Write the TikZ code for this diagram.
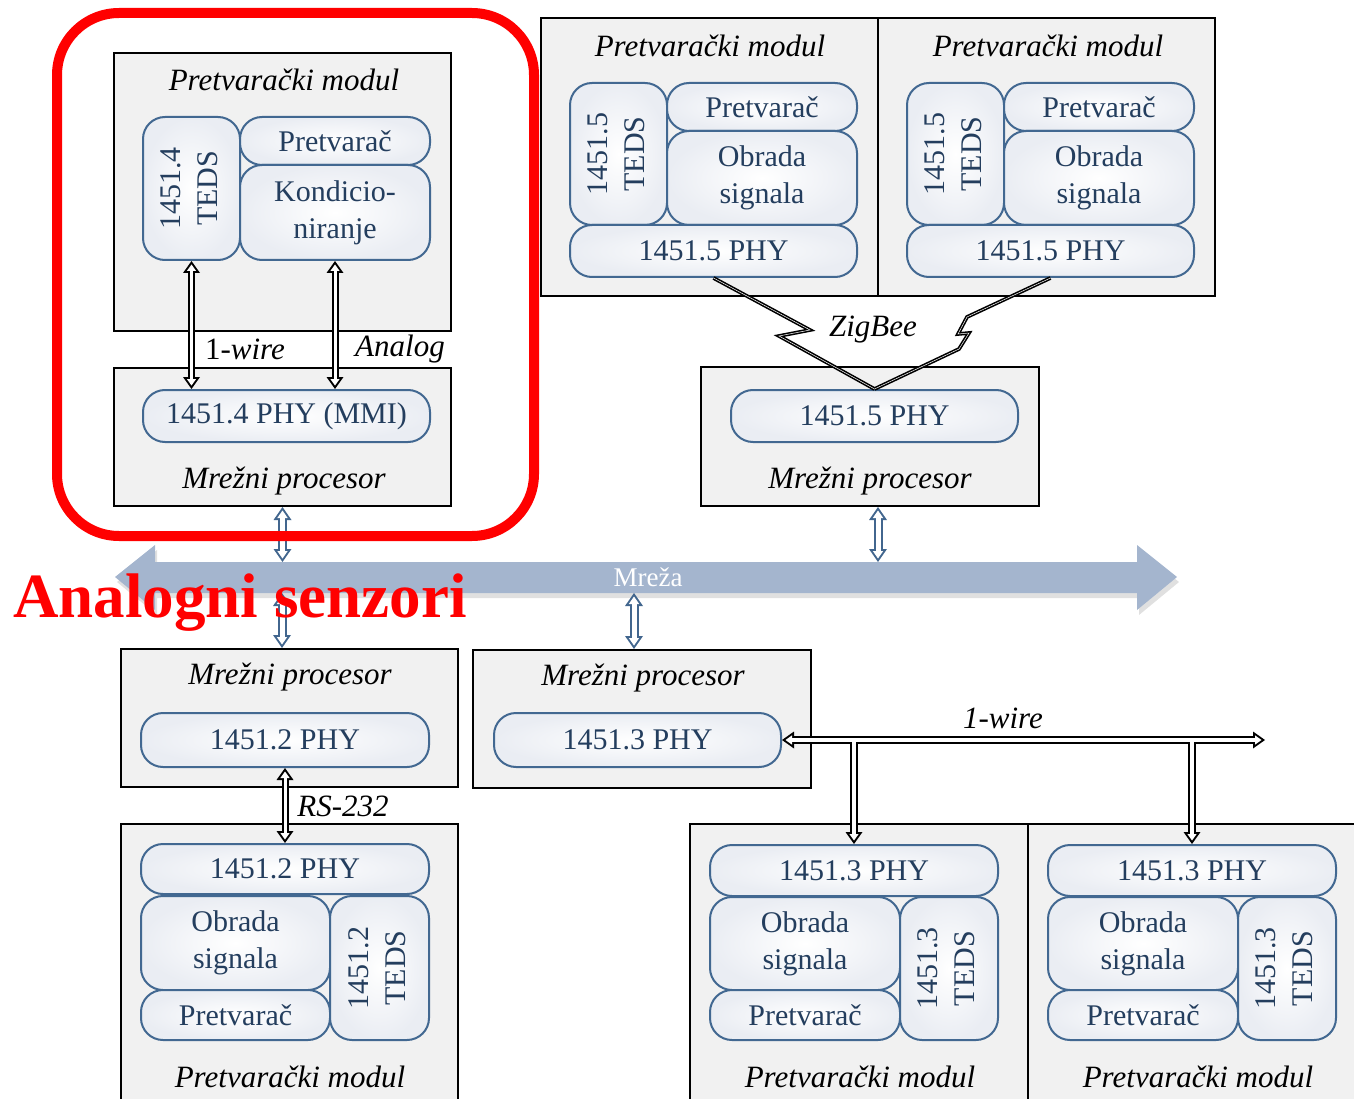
\documentclass[tikz,border=0pt]{standalone}
\usepackage{fontspec}
\setmainfont{Liberation Serif}
\usetikzlibrary{positioning,arrows.meta}

\definecolor{partblue}{RGB}{66,104,145}
\definecolor{parttext}{RGB}{36,62,94}
\definecolor{partshade}{RGB}{234,237,243}
\definecolor{modgray}{RGB}{241,241,241}
\definecolor{netfill}{RGB}{164,181,206}
\definecolor{linkblue}{RGB}{66,102,142}

\newcommand{\partfont}{\fontsize{30}{37}\selectfont}
\newcommand{\modtitlefont}{\fontsize{31}{36}\selectfont\itshape}
\newcommand{\tedslabel}[1]{\rotatebox{90}{\begin{tabular}{@{}c@{}}#1\\TEDS\end{tabular}}}

\tikzset{
  module/.style={draw, line width=2pt, fill=modgray, inner sep=0pt},
  part/.style={draw=partblue, line width=2pt, rounded corners=22pt, inner color=white,
    outer color=partshade, text=parttext, align=center, inner sep=0pt, font=\partfont},
  modtitle/.style={font=\modtitlefont},
  bigtip/.tip={Triangle[length=12pt,width=17pt,line width=0pt]},
  smalltip/.tip={Triangle[length=6.5pt,width=9.3pt,line width=0pt]},
  bluetip/.tip={Triangle[length=13pt,width=18pt,line width=0pt]},
  bluesmall/.tip={Triangle[length=7.5pt,width=10.4pt,line width=0pt]},
  hollow/.style={line width=7pt, bigtip-bigtip,
    postaction={draw=white, line width=3pt, shorten <=3.5pt, shorten >=3.5pt, smalltip-smalltip}},
  netlink/.style={draw=linkblue, line width=9pt, bluetip-bluetip,
    postaction={draw=white, line width=5pt, shorten <=3.5pt, shorten >=3.5pt, bluesmall-bluesmall}},
  busout/.style={line width=8pt},
  busin/.style={draw=white, line width=4pt},
  zig/.style={line width=1.6pt, double=white, double distance=0.5pt},
}

\begin{document}
\begin{tikzpicture}[x=1pt,y=-1pt,line join=miter]
\useasboundingbox (0,0) rectangle (1354,1099);
%% modules
\node (pmL) at (282.5,192) [module, minimum width=337pt, minimum height=278pt] {};
\node (mpL) at (282.5,437) [module, minimum width=337pt, minimum height=138pt] {};
\node (pmB) at (709.5,157) [module, minimum width=337pt, minimum height=278pt] {};
\node (pmC) at (1046.5,157) [module, minimum width=337pt, minimum height=278pt] {};
\node (mpB) at (870,436.5) [module, minimum width=338pt, minimum height=139pt] {};
\node (mpD) at (289.5,718) [module, minimum width=337pt, minimum height=138pt] {};
\node (pmD) at (289.5,967) [module, minimum width=337pt, minimum height=286pt] {};
\node (mpE) at (642,719) [module, minimum width=338pt, minimum height=138pt] {};
\node (pmF) at (859,967) [module, minimum width=338pt, minimum height=286pt] {};
\node (pmG) at (1197,967) [module, minimum width=338pt, minimum height=286pt] {};
%
\node (pmLt) at (284,80) [modtitle] {Pretvarački modul};
\node (mpLt) at (284,481) [modtitle] {Mrežni procesor};
\node (pmBt) at (710,46) [modtitle] {Pretvarački modul};
\node (pmCt) at (1048,46) [modtitle] {Pretvarački modul};
\node (mpBt) at (870,481) [modtitle] {Mrežni procesor};
\node (mpDt) at (290,677) [modtitle] {Mrežni procesor};
\node (pmDt) at (290,1077) [modtitle] {Pretvarački modul};
\node (mpEt) at (643,678) [modtitle] {Mrežni procesor};
\node (pmFt) at (860,1077) [modtitle] {Pretvarački modul};
\node (pmGt) at (1198,1077) [modtitle] {Pretvarački modul};
%% parts, top left
\node (tedsL) at (191.5,188.5) [part, minimum width=97pt, minimum height=143pt] {\tedslabel{1451.4}};
\node (convL) at (335,141) [part, minimum width=190pt, minimum height=48pt] {Pretvarač};
\node (condL) at (335,212.5) [part, minimum width=190pt, minimum height=95pt] {Kondicio-\\niranje};
\node (phyL) at (286.5,416) [part, minimum width=287pt, minimum height=52pt] {1451.4 PHY (MMI)};
%% parts, top
\node (tedsB) at (618.5,154) [part, minimum width=97pt, minimum height=142pt] {\tedslabel{1451.5}};
\node (convB) at (762,107) [part, minimum width=190pt, minimum height=48pt] {Pretvarač};
\node (sigB) at (762,178) [part, minimum width=190pt, minimum height=94pt] {Obrada\\signala};
\node (phyB) at (713.5,251) [part, minimum width=287pt, minimum height=52pt] {1451.5 PHY};
\node (tedsC) at (955.5,154) [part, minimum width=97pt, minimum height=142pt] {\tedslabel{1451.5}};
\node (convC) at (1099,107) [part, minimum width=190pt, minimum height=48pt] {Pretvarač};
\node (sigC) at (1099,178) [part, minimum width=190pt, minimum height=94pt] {Obrada\\signala};
\node (phyC) at (1050.5,251) [part, minimum width=287pt, minimum height=52pt] {1451.5 PHY};
\node (phyM) at (874.5,416) [part, minimum width=287pt, minimum height=52pt] {1451.5 PHY};
%% parts, bottom
\node (phyD) at (285,740) [part, minimum width=288pt, minimum height=54pt] {1451.2 PHY};
\node (phyD2) at (285,869) [part, minimum width=288pt, minimum height=50pt] {1451.2 PHY};
\node (sigD) at (235.5,943) [part, minimum width=189pt, minimum height=94pt] {Obrada\\signala};
\node (convD) at (235.5,1015) [part, minimum width=189pt, minimum height=50pt] {Pretvarač};
\node (tedsD) at (379.5,968) [part, minimum width=99pt, minimum height=144pt] {\tedslabel{1451.2}};
\node (phyE) at (637.5,740) [part, minimum width=287pt, minimum height=54pt] {1451.3 PHY};
\node (phyF) at (854,870.5) [part, minimum width=288pt, minimum height=51pt] {1451.3 PHY};
\node (sigF) at (805,943.5) [part, minimum width=190pt, minimum height=93pt] {Obrada\\signala};
\node (convF) at (805,1015) [part, minimum width=190pt, minimum height=50pt] {Pretvarač};
\node (tedsF) at (949,968.5) [part, minimum width=98pt, minimum height=143pt] {\tedslabel{1451.3}};
\node (phyG) at (1192,870.5) [part, minimum width=288pt, minimum height=51pt] {1451.3 PHY};
\node (sigG) at (1143,943.5) [part, minimum width=190pt, minimum height=93pt] {Obrada\\signala};
\node (convG) at (1143,1015) [part, minimum width=190pt, minimum height=50pt] {Pretvarač};
\node (tedsG) at (1287,968.5) [part, minimum width=98pt, minimum height=143pt] {\tedslabel{1451.3}};
%% wired links
\draw[hollow] (tedsL.south) -- (tedsL.south |- phyL.north);
\draw[hollow] (condL.south) -- (condL.south |- phyL.north);
\node (wireL) at (245,349) [font=\modtitlefont] {\upshape 1-\itshape wire};
\node (analog) at (400,349) [modtitle] {Analog};
\draw[hollow] (phyD.south) -- (phyD2.north);
\node (rs) at (343,806) [modtitle] {RS-232};
%% 1-wire bus
\coordinate (busR) at (1265,740);
\draw[busout, bigtip-bigtip] (phyE.east) -- (busR);
\draw[busout, -bigtip] (phyF.north |- busR) -- (phyF.north);
\draw[busout, -bigtip] (phyG.north |- busR) -- (phyG.north);
\draw[busin, smalltip-smalltip, shorten <=3.5pt, shorten >=3.5pt] (phyE.east) -- (busR);
\draw[busin, -smalltip, shorten >=3.5pt] (phyF.north |- busR) -- (phyF.north);
\draw[busin, -smalltip, shorten >=3.5pt] (phyG.north |- busR) -- (phyG.north);
\node (wireB) at (1003,718) [modtitle] {1-wire};
%% ZigBee
\draw[zig] (phyB.south) -- (810,330) -- (779,336) -- (phyM.north);
\draw[zig] (phyC.south) -- (967,317) -- (958,334) -- (969,333) -- (959,349) -- (phyM.north);
\node (zigbee) at (873,330) [modtitle] {ZigBee};
%% network
\fill[black, opacity=.12, shift={(2,5)}] (115,577) -- (155,545) -- (155,562) -- (1137,562) -- (1137,545)
  -- (1177,577) -- (1137,610) -- (1137,593) -- (155,593) -- (155,610) -- cycle;
\fill[netfill] (115,577) -- (155,545) -- (155,562) -- (1137,562) -- (1137,545)
  -- (1177,577) -- (1137,610) -- (1137,593) -- (155,593) -- (155,610) -- cycle;
\node (mreza) at (648,577) [text=white, font=\fontsize{27}{30}\selectfont] {Mreža};
\coordinate (netT) at (0,562);
\coordinate (netB) at (0,593);
\draw[netlink] (mpL.south) -- (mpL.south |- netT);
\draw[netlink] ([xshift=8pt]mpB.south) -- ([xshift=8pt]mpB.south |- netT);
\draw[netlink] ([xshift=-8pt]mpE.north |- netB) -- ([xshift=-8pt]mpE.north);
\draw[netlink] ([xshift=-7.5pt]mpD.north |- netB) -- ([xshift=-7.5pt]mpD.north);
%% highlight
\draw[red, line width=10pt, rounded corners=62pt] (57,13) rectangle (534,536);
\node (analogni) at (240,603) [text=red, font=\fontsize{63}{70}\selectfont\bfseries] {Analogni senzori};
\end{tikzpicture}
\end{document}
